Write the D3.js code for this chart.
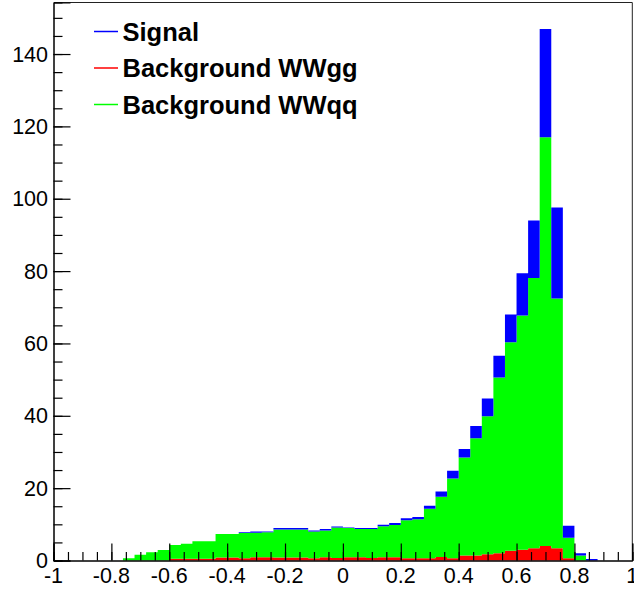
<!DOCTYPE html>
<html>
<head>
<meta charset="utf-8">
<script src="https://cdn.jsdelivr.net/npm/d3@7"></script>
<style>
  body { margin: 0; background: #fff; }
  text { font-family: "Liberation Sans", Arial, Helvetica, sans-serif; }
</style>
</head>
<body>
<script>
'use strict';

// 50 bins from -1 to 1
const nBins = 50;
const binLow = d3.range(nBins).map(i => -1 + i * 0.04);

// bin contents
const wwgg = [0, 0, 0, 0, 0, 0, 0, 0, 0, 0,
  0.5, 0.5, 0.5, 0.5, 0.8, 0.8, 0.6, 0.9, 0.9, 0.8,
  0.8, 0.8, 0.6, 0.9, 0.7, 0.9, 0.9, 0.7, 0.9, 0.9,
  0.6, 0.6, 0.6, 1.0, 0.6, 1.4, 1.4, 1.7, 2.0, 2.7,
  3.0, 3.4, 4.0, 3.4, 0.6, 0, 0, 0, 0, 0];

const wwqq = [0, 0, 0, 0, 0, 0, 0.6, 1.6, 2.3, 2.9,
  3.8, 4.1, 4.8, 4.8, 6.5, 6.5, 7.0, 6.8, 6.9, 7.8,
  7.8, 7.8, 7.4, 7.4, 8.4, 8.1, 7.8, 8.0, 8.6, 8.9,
  10.5, 10.8, 13.7, 16.6, 22.1, 27.1, 32.4, 38.2, 48.6, 57.6,
  64.7, 74.7, 113.0, 69.0, 5.7, 1.4, 0, 0, 0, 0];

const signal = [0, 0, 0, 0, 0, 0, 0, 0, 0, 0,
  0, 0, 0, 0, 0, 0, 0.2, 0.3, 0.2, 0.4,
  0.4, 0.4, 0.3, 0.4, 0.3, 0.1, 0.3, 0.3, 0.4, 0.6,
  0.6, 0.6, 0.8, 1.5, 2.1, 2.3, 3.4, 4.9, 6.0, 7.7,
  11.7, 15.9, 29.9, 25.2, 3.3, 0.6, 0.4, 0, 0, 0];

const xTicks = [-1, -0.8, -0.6, -0.4, -0.2, 0, 0.2, 0.4, 0.6, 0.8, 1];
const xTickLabels = ["-1", "-0.8", "-0.6", "-0.4", "-0.2", "0", "0.2", "0.4", "0.6", "0.8", "1"];
const yTicks = [0, 20, 40, 60, 80, 100, 120, 140];

const legendNames = ["Signal", "Background WWgg", "Background WWqq"];
const legendColors = ["#0000ff", "#ff0000", "#00ff00"];

(function() {
  const width = 634, height = 590;
  const left = 53.5, right = 632.3, top = 2.5, bottom = 560.5;

  const svg = d3.select('body').append('svg')
    .attr('width', width)
    .attr('height', height);

  // rows for the stack, one extra row closes the last bin
  let rows = binLow.map((x, i) => ({ x: x, gg: wwgg[i], qq: wwqq[i], sig: signal[i] }));
  rows.push({ x: 1, gg: wwgg[nBins - 1], qq: wwqq[nBins - 1], sig: signal[nBins - 1] });

  const stack = d3.stack().keys(["gg", "qq", "sig"]);
  const layers = stack(rows);

  const total = d3.max(rows, d => d.gg + d.qq + d.sig);

  const xScale = d3.scaleLinear().domain([-1, 1]).range([left, right]);
  const yScale = d3.scaleLinear().domain([0, total * 1.05]).range([bottom, top]);

  const area = d3.area()
    .curve(d3.curveStepAfter)
    .x(d => xScale(d.data.x))
    .y0(d => yScale(d[0]))
    .y1(d => yScale(d[1]));

  const fills = { gg: "#ff0000", qq: "#00ff00", sig: "#0000ff" };

  svg.append('g').selectAll('path')
    .data(layers)
    .enter()
    .append('path')
      .attr('d', area)
      .attr('fill', d => fills[d.key]);

  // frame
  svg.append('path')
    .attr('d', `M${left},${top}H${right}V${bottom}`)
    .attr('fill', 'none')
    .attr('stroke', '#222')
    .attr('stroke-width', 1);

  // x axis, ticks pointing inward
  const xMinor = d3.range(-1, 1.0001, 0.05);
  const xAxisMinor = d3.axisTop(xScale).tickValues(xMinor).tickSize(8.5).tickFormat('');
  const xAxisMajor = d3.axisTop(xScale).tickValues(xTicks).tickSize(17).tickFormat('');
  svg.append('g').attr('transform', `translate(0,${bottom})`).call(xAxisMinor);
  svg.append('g').attr('transform', `translate(0,${bottom})`).call(xAxisMajor);

  svg.append('g').selectAll('text')
    .data(xTicks)
    .enter()
    .append('text')
      .attr('x', d => xScale(d))
      .attr('y', 583)
      .attr('text-anchor', 'middle')
      .style('font-size', '21.5px')
      .text((d, i) => xTickLabels[i]);

  // y axis
  const yMinor = d3.range(0, 151, 5);
  const yAxisMinor = d3.axisRight(yScale).tickValues(yMinor).tickSize(9).tickFormat('');
  const yAxisMajor = d3.axisRight(yScale).tickValues(yTicks).tickSize(17).tickFormat('');
  svg.append('g').attr('transform', `translate(${left},0)`).call(yAxisMinor);
  svg.append('g').attr('transform', `translate(${left},0)`).call(yAxisMajor);

  svg.append('g').selectAll('text')
    .data(yTicks)
    .enter()
    .append('text')
      .attr('x', 48)
      .attr('y', d => yScale(d) + 7.5)
      .attr('text-anchor', 'end')
      .style('font-size', '21.5px')
      .text(d => d);

  svg.selectAll('.domain').attr('stroke', '#000').attr('stroke-width', 1);
  svg.selectAll('.tick line').attr('stroke', '#000').attr('stroke-width', 1.2);

  // legend
  const legend = svg.append('g').selectAll('g')
    .data(legendNames)
    .enter()
    .append('g')
      .attr('transform', (d, i) => `translate(0,${31.5 + i * 36.5})`);

  legend.append('line')
    .attr('x1', 94).attr('x2', 118)
    .attr('y1', 0).attr('y2', 0)
    .attr('stroke', (d, i) => legendColors[i])
    .attr('stroke-width', 1.5);

  legend.append('text')
    .attr('x', 122.5)
    .attr('y', 9)
    .style('font-size', '25.5px')
    .style('font-weight', 'bold')
    .text(d => d);
})();
</script>
</body>
</html>
